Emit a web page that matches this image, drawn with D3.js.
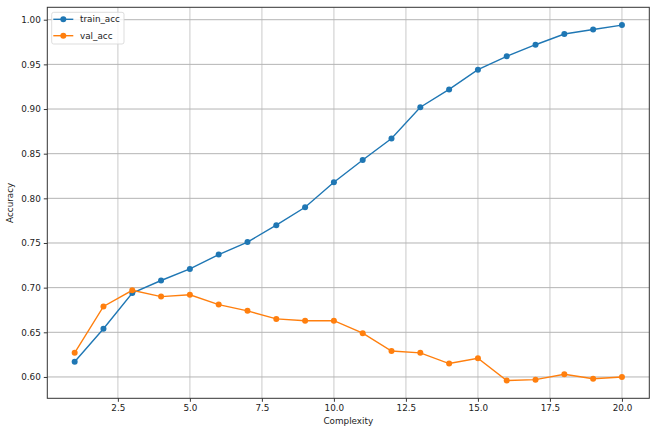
<!DOCTYPE html>
<meta charset="utf-8">
<style>
  body { margin: 0; background: #fff; }
  svg { display: block; }
  text { font-family: "DejaVu Sans", sans-serif; font-size: 8.8px; fill: #222; }
  .grid-x line { stroke: #d6d6d6; stroke-width: 1.3; }
  .grid-y line { stroke: #b4b4b4; stroke-width: 1; }
  .axis path, .axis line { stroke: #222; stroke-width: 0.9; }
  .frame { fill: none; stroke: #333; stroke-width: 1; }
  .series { fill: none; stroke-width: 1.4; }
  .legend-box { fill: #fff; fill-opacity: 0.8; stroke: #d4d4d4; stroke-width: 0.8; }
</style>
<body>
<div id="vis"></div>
<script src="https://cdn.jsdelivr.net/npm/d3@7"></script>
<script>

const complexity = [1, 2, 3, 4, 5, 6, 7, 8, 9, 10, 11, 12, 13, 14, 15, 16, 17, 18, 19, 20];
const trainAcc = [0.617, 0.654, 0.694, 0.708, 0.721, 0.737, 0.751, 0.770, 0.790, 0.818,
                  0.843, 0.867, 0.902, 0.922, 0.944, 0.959, 0.972, 0.984, 0.989, 0.994];
const valAcc = [0.627, 0.679, 0.697, 0.690, 0.692, 0.681, 0.674, 0.665, 0.663, 0.663,
                0.649, 0.629, 0.627, 0.615, 0.621, 0.596, 0.597, 0.603, 0.598, 0.600];
const xTicks = [2.5, 5.0, 7.5, 10.0, 12.5, 15.0, 17.5, 20.0];
const yTicks = [0.60, 0.65, 0.70, 0.75, 0.80, 0.85, 0.90, 0.95, 1.00];
const seriesNames = ['train_acc', 'val_acc'];
const colors = ['#1f77b4', '#ff7f0e'];

const width = 662,
    height = 435;
let margin = {l: 47.3, r: 12.7, t: 7.3, b: 36.7};

// matplotlib style 5% padding around the data
const pad = (ext) => {
  let d = (ext[1] - ext[0]) * 0.05;
  return [ext[0] - d, ext[1] + d];
};

let xScale = d3.scaleLinear()
    .domain(pad(d3.extent(complexity)))
    .range([margin.l, width - margin.r]);
let yScale = d3.scaleLinear()
    .domain(pad(d3.extent(trainAcc.concat(valAcc))))
    .range([height - margin.b, margin.t]);

svg = d3.select('#vis')
    .append('svg')
    .attr('width', width)
    .attr('height', height);

// grid
svg.append('g')
    .attr('class', 'grid-x')
    .selectAll('line')
    .data(xTicks)
    .enter().append('line')
    .attr('x1', d => xScale(d)).attr('x2', d => xScale(d))
    .attr('y1', margin.t).attr('y2', height - margin.b);
svg.append('g')
    .attr('class', 'grid-y')
    .selectAll('line')
    .data(yTicks)
    .enter().append('line')
    .attr('x1', margin.l).attr('x2', width - margin.r)
    .attr('y1', d => yScale(d)).attr('y2', d => yScale(d));

// axes
let xAxis = svg.append('g')
    .attr('class', 'axis')
    .attr('transform', 'translate(0,' + (height - margin.b) + ')')
    .call(d3.axisBottom(xScale).tickValues(xTicks).tickFormat(d3.format('.1f')).tickSize(3.5).tickPadding(3));
let yAxis = svg.append('g')
    .attr('class', 'axis')
    .attr('transform', 'translate(' + margin.l + ',0)')
    .call(d3.axisLeft(yScale).tickValues(yTicks).tickFormat(d3.format('.2f')).tickSize(3.5).tickPadding(3));
xAxis.select('.domain').remove();
yAxis.select('.domain').remove();
xAxis.selectAll('text').style('font-size', '8.8px').style('font-family', '"DejaVu Sans", sans-serif');
yAxis.selectAll('text').style('font-size', '8.8px').style('font-family', '"DejaVu Sans", sans-serif');

svg.append('rect')
    .attr('class', 'frame')
    .attr('x', margin.l)
    .attr('y', margin.t)
    .attr('width', width - margin.l - margin.r)
    .attr('height', height - margin.t - margin.b);

// axis labels
svg.append('text')
    .attr('x', (margin.l + width - margin.r) / 2)
    .attr('y', 424)
    .style('text-anchor', 'middle')
    .text('Complexity');
svg.append('text')
    .attr('transform', 'translate(12.5,' + ((margin.t + height - margin.b) / 2) + ') rotate(-90)')
    .style('text-anchor', 'middle')
    .text('Accuracy');

// series
let line = d3.line()
    .x((d, i) => xScale(complexity[i]))
    .y(d => yScale(d));

[trainAcc, valAcc].forEach((vals, k) => {
  let g = svg.append('g').attr('class', 'series-group');
  g.append('path')
      .attr('class', 'series')
      .style('stroke', colors[k])
      .attr('d', line(vals));
  g.selectAll('circle')
      .data(vals)
      .enter().append('circle')
      .attr('cx', (d, i) => xScale(complexity[i]))
      .attr('cy', d => yScale(d))
      .attr('r', 3)
      .style('fill', colors[k]);
});

// legend
let legend = svg.append('g')
    .attr('transform', 'translate(51.7,12.3)');
legend.append('rect')
    .attr('class', 'legend-box')
    .attr('width', 72.3)
    .attr('height', 31.7)
    .attr('rx', 2);
seriesNames.forEach((name, k) => {
  let row = legend.append('g')
      .attr('transform', 'translate(0,' + (7 + k * 16.4) + ')');
  row.append('line')
      .attr('x1', 1.6).attr('x2', 21.6)
      .style('stroke', colors[k])
      .style('stroke-width', 1.4);
  row.append('circle')
      .attr('cx', 11.6)
      .attr('r', 3)
      .style('fill', colors[k]);
  row.append('text')
      .attr('x', 28.3)
      .attr('dy', '0.32em')
      .text(name);
});

</script>
</body>
